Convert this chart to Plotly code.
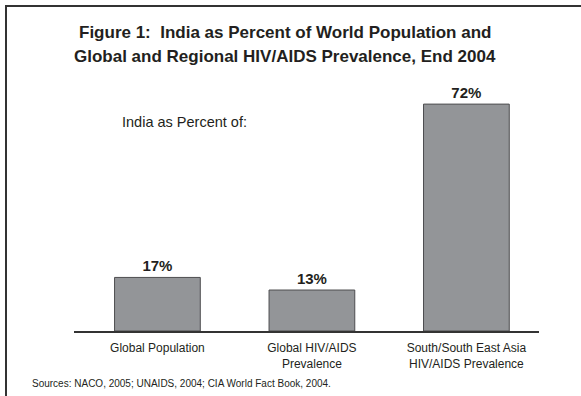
import plotly.graph_objects as go

categories = ["Global Population", "Global HIV/AIDS<br>Prevalence", "South/South East Asia<br>HIV/AIDS Prevalence"]
values = [17, 13, 72]
value_labels = ["17%", "13%", "72%"]

W, H = 581, 396
L, R, T, B = 74, 539, 100, 331
pw, ph = R - L, B - T

def px(x):
    return (x - L) / pw

def py(y):
    return (B - y) / ph

FONT = "Liberation Sans, Arial, sans-serif"
TXT = "#231f20"

fig = go.Figure()
fig.add_trace(go.Bar(
    x=[0, 1, 2], y=values, width=0.555,
    marker=dict(color="#939598", line=dict(color="#4d4d4f", width=1)),
    text=value_labels, textposition="outside", cliponaxis=False,
    textfont=dict(family=FONT, size=15, color=TXT),
    texttemplate="<b>%{text}</b>",
))

fig.update_layout(
    width=W, height=H,
    margin=dict(l=L, r=W - R, t=T, b=H - B),
    paper_bgcolor="white", plot_bgcolor="white",
    showlegend=False,
    bargap=0.445,
    font=dict(family=FONT, color=TXT),
    xaxis=dict(range=[-0.54, 2.47], tickvals=[0, 1, 2], ticktext=categories,
               showline=True, linecolor="#333333", linewidth=1.5,
               showgrid=False, zeroline=False, ticks="", ticklabelstandoff=5,
               tickfont=dict(family=FONT, size=12, color=TXT), fixedrange=True),
    yaxis=dict(range=[0, 73.3], visible=False, showgrid=False, zeroline=False, fixedrange=True),
)

fig.add_annotation(text="<b>Figure 1:  India as Percent of World Population and</b>",
                   xref="paper", yref="paper", x=px(284.5), y=py(33), showarrow=False,
                   xanchor="center", yanchor="middle",
                   font=dict(family=FONT, size=17, color=TXT))
fig.add_annotation(text="<b>Global and Regional HIV/AIDS Prevalence, End 2004</b>",
                   xref="paper", yref="paper", x=px(284.5), y=py(57), showarrow=False,
                   xanchor="center", yanchor="middle",
                   font=dict(family=FONT, size=17, color=TXT))
fig.add_annotation(text="India as Percent of:",
                   xref="paper", yref="paper", x=px(120), y=py(122), showarrow=False,
                   xanchor="left", yanchor="middle",
                   font=dict(family=FONT, size=14.5, color=TXT))
fig.add_annotation(text="Sources: NACO, 2005; UNAIDS, 2004; CIA World Fact Book, 2004.",
                   xref="paper", yref="paper", x=px(30), y=py(383), showarrow=False,
                   xanchor="left", yanchor="middle",
                   font=dict(family=FONT, size=10, color=TXT))

fig.add_shape(type="path", xref="paper", yref="paper",
              path=f"M {px(6)} {py(400)} L {px(6)} {py(6)} L {px(590)} {py(6)}",
              line=dict(color="#333333", width=2))

fig.write_html("out.html")
